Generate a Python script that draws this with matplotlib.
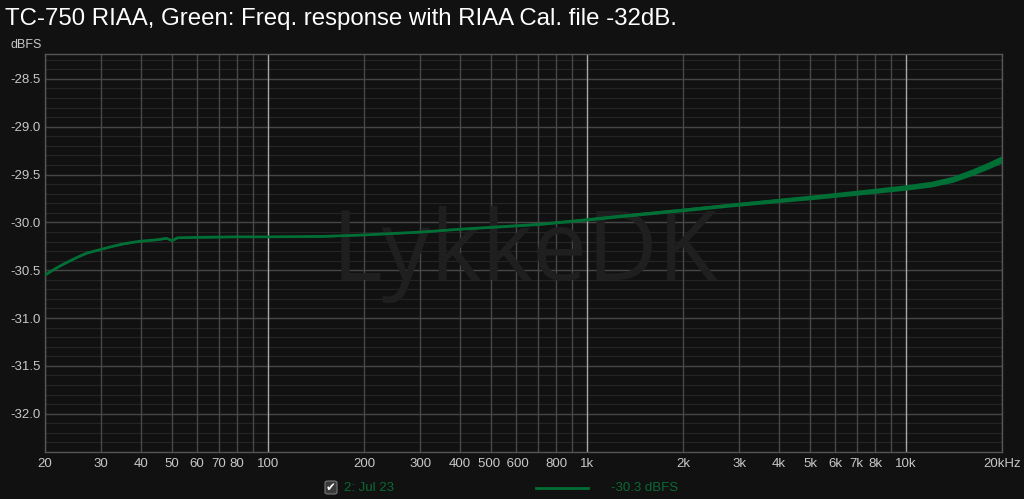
import numpy as np
import matplotlib
matplotlib.use("Agg")
import matplotlib.pyplot as plt
from matplotlib.ticker import FixedLocator, NullFormatter
from matplotlib.patches import FancyBboxPatch

plt.rcParams["font.family"] = ["Liberation Sans", "DejaVu Sans"]

# ---------- Data ----------
freq = [20, 21, 22, 23, 25, 27, 30, 32, 35, 38, 40, 45, 48, 50, 52, 60, 80, 100, 150, 200,
        300, 400, 500, 700, 1000, 1500, 2000, 3000, 4000, 5000, 7000, 10000,
        12000, 14000, 16000, 18000, 20000]
level = [-30.55, -30.505, -30.465, -30.43, -30.37, -30.32, -30.28, -30.255, -30.225,
         -30.205, -30.195, -30.18, -30.165, -30.19, -30.16, -30.155, -30.15, -30.15,
         -30.145, -30.13, -30.10, -30.07, -30.05, -30.02, -29.97, -29.91, -29.87,
         -29.81, -29.77, -29.74, -29.69, -29.635, -29.60, -29.55, -29.48, -29.41, -29.34]
# half width of the noisy trace (dB)
spread = [0.01, 0.01, 0.01, 0.01, 0.01, 0.01, 0.01, 0.01, 0.01, 0.01, 0.01, 0.01, 0.01,
          0.01, 0.01, 0.01, 0.01, 0.01, 0.01, 0.01, 0.01, 0.01, 0.012, 0.013, 0.015,
          0.017, 0.018, 0.02, 0.022, 0.024, 0.026, 0.028, 0.03, 0.032, 0.034,
          0.036, 0.038]

grid_freqs = [20, 30, 40, 50, 60, 70, 80, 90, 200, 300, 400, 500, 600, 700, 800, 900,
              2000, 3000, 4000, 5000, 6000, 7000, 8000, 9000, 20000]
decade_freqs = [100, 1000, 10000]
tick_freqs = [20, 30, 40, 50, 60, 70, 80, 100, 200, 300, 400, 500, 600, 800,
              1000, 2000, 3000, 4000, 5000, 6000, 7000, 8000, 10000, 20000]
tick_labels = ["20", "30", "40", "50", "60", "70", "80", "100", "200", "300", "400",
               "500 ", " 600", "800", "1k", "2k", "3k", "4k", "5k", "6k", "7k", "8k",
               "10k", "20kHz"]
y_ticks = [-32.0, -31.5, -31.0, -30.5, -30.0, -29.5, -29.0, -28.5]

bg = "#111111"
green = "#006f36"
txt = "#c8c8c8"

fig = plt.figure(figsize=(10.24, 4.99), dpi=100, facecolor=bg)
ax = fig.add_axes([45 / 1024, 47 / 499, 957 / 1024, 398 / 499], facecolor=bg)

ax.set_xscale("log")
ax.set_xlim(20, 20000)
ax.set_ylim(-32.40, -28.24)

# grid
for y in np.arange(-32.3, -28.25, 0.1):
    ax.axhline(y, color="#252525", lw=0.8, zorder=0)
for y in y_ticks:
    ax.axhline(y, color="#464646", lw=1.0, zorder=0)
for f in grid_freqs:
    ax.axvline(f, color="#484848", lw=1.0, zorder=0)
for f in decade_freqs:
    ax.axvline(f, color="#a8a8a8", lw=1.0, zorder=0)

# watermark
ax.text(525 / 1024 * 1024 / 957 - 45 / 957, (452 - 280) / 398, "LykkeDK",
        transform=ax.transAxes, ha="center", va="baseline",
        fontsize=70, color="#1f1f1f", zorder=0.5, family=["Open Sans", "DejaVu Sans"])

# trace
f = np.array(freq)
lv = np.array(level)
sp = np.array(spread)
ax.fill_between(f, lv - sp, lv + sp, color=green, lw=0, zorder=2)
ax.plot(f, lv, color=green, lw=1.8, zorder=3)

# ticks
ax.xaxis.set_major_locator(FixedLocator(tick_freqs))
ax.xaxis.set_minor_formatter(NullFormatter())
ax.xaxis.set_minor_locator(FixedLocator([]))
ax.set_xticklabels(tick_labels)
ax.set_yticks(y_ticks)
ax.set_yticklabels([f"{v:.1f}" for v in y_ticks])
ax.tick_params(axis="both", colors=txt, labelsize=9.5, length=0)
ax.tick_params(axis="x", pad=4)
ax.tick_params(axis="y", pad=3)
for s in ax.spines.values():
    s.set_color("#555555")
    s.set_linewidth(1.0)

# titles
fig.text(5 / 1024, 1 - 19 / 499, "TC-750 RIAA, Green: Freq. response with RIAA Cal. file -32dB.",
         color="white", fontsize=17.3, va="center", ha="left")
fig.text(42 / 1024, 1 - 45 / 499, "dBFS", color=txt, fontsize=9, ha="right", va="center")

# legend row
box = FancyBboxPatch((325 / 1024, (499 - 494) / 499), 12 / 1024, 13 / 499,
                     boxstyle="round,pad=0,rounding_size=0.003", transform=fig.transFigure,
                     facecolor="#3a3a3a", edgecolor="#777777", lw=0.8)
fig.patches.append(box)
fig.text(331 / 1024, 1 - 488 / 499, "\u2714", color="white", fontsize=8.5,
         ha="center", va="center", family=["DejaVu Sans"])
fig.text(344 / 1024, 1 - 488 / 499, "2: Jul 23", color="#0a6a34", fontsize=9.5,
         ha="left", va="center")
fig.add_artist(plt.Line2D([536 / 1024, 588 / 1024], [1 - 488 / 499, 1 - 488 / 499],
                          color=green, lw=2, transform=fig.transFigure))
fig.text(611 / 1024, 1 - 488 / 499, "-30.3 dBFS", color="#0a6a34", fontsize=9.5,
         ha="left", va="center")

fig.savefig("out.png", dpi=100, facecolor=bg)
